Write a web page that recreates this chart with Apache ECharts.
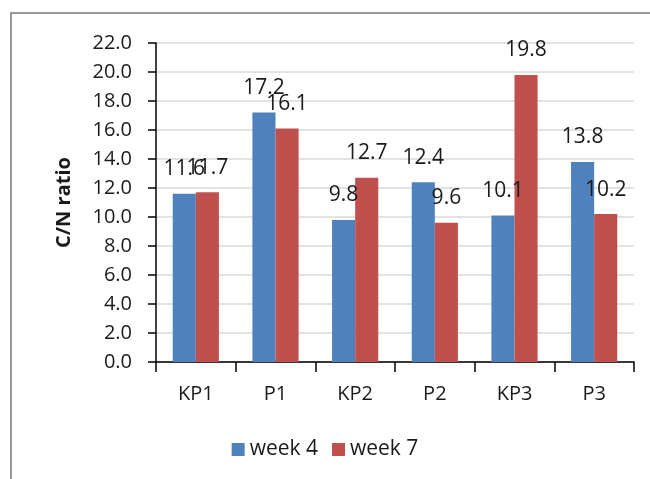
<!DOCTYPE html>
<html>
<head>
  <meta charset="utf-8">
</head>
<body style="margin: 0; background: #fff">
  <div id="container" style="width: 650px; height: 479px"></div>
  <script src="https://cdn.jsdelivr.net/npm/echarts@6/dist/echarts.min.js"></script>
  <script>
    var categories = ['KP1', 'P1', 'KP2', 'P2', 'KP3', 'P3'];
    var week4 = [11.6, 17.2, 9.8, 12.4, 10.1, 13.8];
    var week7 = [11.7, 16.1, 12.7, 9.6, 19.8, 10.2];
    var seriesNames = ['week 4', 'week 7'];

    var font = 'Open Sans';
    var chart = echarts.init(document.getElementById('container'), null, { renderer: 'canvas' });

    var labelStyle = {
      show: true,
      position: 'top',
      distance: 14,
      fontFamily: font,
      fontSize: 21,
      color: '#1a1a1a',
      formatter: function (p) { return p.value.toFixed(1); }
    };

    var option = {
      backgroundColor: '#fff',
      animation: false,
      graphic: [{
        type: 'rect',
        shape: { x: 11, y: 13, width: 660, height: 480 },
        style: { fill: 'none', stroke: '#777', lineWidth: 1.5 },
        silent: true
      }],
      grid: { left: 156, right: 16, top: 43, bottom: 117 },
      legend: {
        data: seriesNames,
        top: 434,
        left: 'center',
        itemWidth: 13,
        itemHeight: 13,
        itemGap: 14,
        icon: 'rect',
        textStyle: { fontFamily: font, fontSize: 21, color: '#1a1a1a' }
      },
      xAxis: {
        type: 'category',
        data: categories,
        axisLine: { lineStyle: { color: '#000', width: 1.5 } },
        axisTick: { show: true, length: 10, lineStyle: { color: '#000', width: 1.5 } },
        axisLabel: { fontFamily: font, fontSize: 20, color: '#1a1a1a', margin: 22 }
      },
      yAxis: {
        type: 'value',
        min: 0,
        max: 22,
        interval: 2,
        name: 'C/N ratio',
        nameLocation: 'middle',
        nameGap: 82,
        nameTextStyle: { fontFamily: font, fontSize: 20, fontWeight: 'bold', color: '#1a1a1a' },
        axisLine: { show: true, lineStyle: { color: '#000', width: 1.5 } },
        axisTick: { show: true, inside: false, length: 8, lineStyle: { color: '#000', width: 1.5 } },
        axisLabel: {
          fontFamily: font, fontSize: 20, color: '#1a1a1a', margin: 24,
          formatter: function (v) { return v.toFixed(1); }
        },
        splitLine: { lineStyle: { color: '#d9d9d9', width: 1.5 } }
      },
      series: [
        {
          name: seriesNames[0],
          type: 'bar',
          data: week4,
          barWidth: '29%',
          barGap: '0%',
          itemStyle: { color: '#4F81BD' },
          label: labelStyle
        },
        {
          name: seriesNames[1],
          type: 'bar',
          data: week7,
          barWidth: '29%',
          itemStyle: { color: '#C0504D' },
          label: labelStyle
        }
      ]
    };

    chart.setOption(option);
  </script>
</body>
</html>
